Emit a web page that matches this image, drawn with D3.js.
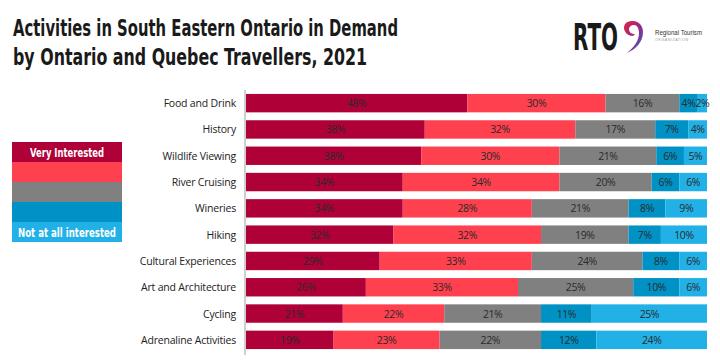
<!DOCTYPE html>
<html>
<head>
<meta charset="utf-8">
<script src="https://cdn.jsdelivr.net/npm/d3@7"></script>
<style>
  body { margin: 0; background: #fff; }
  svg { display: block; }
</style>
</head>
<body>
<div id="chart"></div>
<script>
// Data
const categories = ["Food and Drink", "History", "Wildlife Viewing", "River Cruising", "Wineries",
  "Hiking", "Cultural Experiences", "Art and Architecture", "Cycling", "Adrenaline Activities"];
const veryInterested = [48, 38, 38, 34, 34, 32, 29, 26, 21, 19];
const interested = [30, 32, 30, 34, 28, 32, 33, 33, 22, 23];
const neutral = [16, 17, 21, 20, 21, 19, 24, 25, 21, 22];
const notVery = [4, 7, 6, 6, 8, 7, 8, 10, 11, 12];
const notAtAll = [2, 4, 5, 6, 9, 10, 6, 6, 25, 24];
const seriesKeys = ["very", "inter", "neutral", "notvery", "notatall"];
const legendLabels = ["Very Interested", "", "", "", "Not at all interested"];

const colors = ["#B00038", "#FF404F", "#808080", "#0091C5", "#21B1E6"];

const width = 720, height = 364;
const svg = d3.select("#chart").append("svg")
  .attr("width", width).attr("height", height);

const condensed = "'DejaVu Sans Condensed', 'DejaVu Sans', sans-serif";

// Title
const title = svg.append("g")
  .attr("font-family", condensed).attr("font-stretch", "condensed")
  .attr("font-weight", "bold").attr("font-size", 22.5).attr("fill", "#1a1a1a");
title.append("text").attr("x", 13).attr("y", 36)
  .attr("textLength", 385).attr("lengthAdjust", "spacingAndGlyphs")
  .text("Activities in South Eastern Ontario in Demand");
title.append("text").attr("x", 13).attr("y", 65)
  .attr("textLength", 354).attr("lengthAdjust", "spacingAndGlyphs")
  .text("by Ontario and Quebec Travellers, 2021");

// Logo
const logo = svg.append("g").attr("transform", "translate(573,0)");
logo.append("text").attr("x", 0).attr("y", 50)
  .attr("font-family", condensed).attr("font-stretch", "condensed")
  .attr("font-weight", 600)
  .attr("font-size", 38).attr("fill", "#1a1a1a").attr("textLength", 45)
  .attr("lengthAdjust", "spacingAndGlyphs").text("RTO");
const grad = svg.append("defs").append("linearGradient").attr("id", "g9")
  .attr("x1", 0).attr("y1", 0).attr("x2", 1).attr("y2", 1);
grad.append("stop").attr("offset", "0%").attr("stop-color", "#E4213A");
grad.append("stop").attr("offset", "55%").attr("stop-color", "#8E2C8F");
grad.append("stop").attr("offset", "100%").attr("stop-color", "#1E73C8");
logo.append("path")
  .attr("d", "M60,36 C54,36 51,31 51,28 C51,22 56,21 60,21 C66,21 70,26 70,32 C70,42 63,49 54,53 C61,47 66,41 66,33 C66,28 64,25 61,25 C58,25 56,27 56,29 C56,32 58,34 62,34 Z")
  .attr("fill", "url(#g9)");
logo.append("text").attr("x", 82).attr("y", 35)
  .attr("font-family", "'Liberation Sans', sans-serif").attr("font-size", 6.5)
  .attr("textLength", 47).attr("lengthAdjust", "spacingAndGlyphs")
  .attr("fill", "#333").text("Regional Tourism");
logo.append("text").attr("x", 82).attr("y", 41)
  .attr("font-family", "'Liberation Sans', sans-serif").attr("font-size", 3.5)
  .attr("textLength", 33).attr("fill", "#999").text("ORGANIZATION");

// Stack data (normalized to 100%)
const rows = categories.map((c, i) => ({
  cat: c, very: veryInterested[i], inter: interested[i], neutral: neutral[i],
  notvery: notVery[i], notatall: notAtAll[i]
}));
const stack = d3.stack().keys(seriesKeys).offset(d3.stackOffsetExpand);
const stacked = stack(rows);

const x = d3.scaleLinear().domain([0, 1]).range([246, 707]);
const y = d3.scaleBand().domain(categories).range([90, 353])
  .paddingInner(0.3).paddingOuter(0.15);

// Axis line
svg.append("line").attr("x1", 245).attr("x2", 245).attr("y1", 90).attr("y2", 355)
  .attr("stroke", "#bfbfbf").attr("stroke-width", 1.5);

// Bars
const layers = svg.selectAll("g.layer").data(stacked).enter().append("g")
  .attr("class", "layer").attr("fill", (d, i) => colors[i]);
layers.selectAll("rect").data(d => d).enter().append("rect")
  .attr("x", d => x(d[0]))
  .attr("y", d => y(d.data.cat))
  .attr("width", d => x(d[1]) - x(d[0]))
  .attr("height", y.bandwidth());

// Value labels
layers.each(function(layer) {
  d3.select(this).selectAll("text").data(layer).enter().append("text")
    .attr("x", d => (x(d[0]) + x(d[1])) / 2)
    .attr("y", d => y(d.data.cat) + y.bandwidth() / 2 + 4)
    .attr("text-anchor", "middle")
    .attr("font-family", "'Open Sans', 'Liberation Sans', sans-serif")
    .attr("font-size", 10.5).attr("fill", "#2a2a2a")
    .attr("letter-spacing", -0.4)
    .text(d => d.data[layer.key] + "%");
});

// Category labels
svg.selectAll("text.cat").data(categories).enter().append("text")
  .attr("class", "cat")
  .attr("x", 236)
  .attr("y", d => y(d) + y.bandwidth() / 2 + 4)
  .attr("text-anchor", "end")
  .attr("font-family", "'Open Sans', 'Liberation Sans', sans-serif")
  .attr("font-size", 10.5).attr("fill", "#222")
  .attr("letter-spacing", -0.2)
  .text(d => d);

// Legend
const legendWidths = [74, 0, 0, 0, 98];
const legend = svg.append("g").attr("transform", "translate(12,142)");
legend.selectAll("rect").data(colors).enter().append("rect")
  .attr("x", 0).attr("y", (d, i) => i * 20)
  .attr("width", 110).attr("height", 20).attr("fill", d => d);
legend.selectAll("text").data(legendLabels).enter().append("text")
  .attr("x", 55).attr("y", (d, i) => i * 20 + 14.5)
  .attr("text-anchor", "middle")
  .attr("font-family", condensed).attr("font-stretch", "condensed")
  .attr("font-weight", "bold").attr("font-size", 13).attr("fill", "#fff")
  .attr("textLength", (d, i) => legendWidths[i] || null)
  .attr("lengthAdjust", "spacingAndGlyphs")
  .text(d => d);
</script>
</body>
</html>
